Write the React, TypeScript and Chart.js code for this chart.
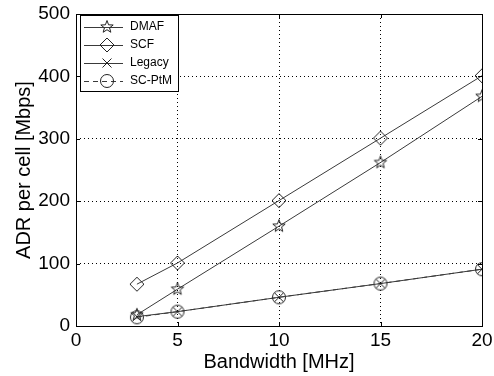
import React, { useEffect, useRef } from "react";
import { Chart, registerables } from "chart.js";
Chart.register(...registerables);

const bandwidth = [3, 5, 10, 15, 20];
const dmaf = [18, 59, 160, 262, 368];
const scf = [67, 101, 201, 301, 401];
const legacy = [15, 23, 46, 68, 91];
const scPtm = [14, 23, 46, 68, 91];
const seriesNames = ["DMAF", "SCF", "Legacy", "SC-PtM"];
const xTicks = [0, 5, 10, 15, 20];
const yTicks = [0, 100, 200, 300, 400, 500];

const LINE = "#3a3a3a";
const MARK = "#222";
const FAMILY = "'Liberation Sans', Arial, sans-serif";

function drawMarker(ctx: CanvasRenderingContext2D, kind: string, x: number, y: number) {
  ctx.save();
  ctx.strokeStyle = MARK;
  ctx.lineWidth = 1;
  ctx.setLineDash([]);
  ctx.beginPath();
  if (kind === "star") {
    const R = 6.5, r = 2.7;
    for (let i = 0; i < 10; i++) {
      const a = -Math.PI / 2 + (i * Math.PI) / 5;
      const rad = i % 2 === 0 ? R : r;
      const px = x + rad * Math.cos(a), py = y + rad * Math.sin(a);
      if (i === 0) ctx.moveTo(px, py); else ctx.lineTo(px, py);
    }
    ctx.closePath();
  } else if (kind === "diamond") {
    const d = 7;
    ctx.moveTo(x, y - d); ctx.lineTo(x + d, y); ctx.lineTo(x, y + d); ctx.lineTo(x - d, y); ctx.closePath();
  } else if (kind === "cross") {
    const d = 4.5;
    ctx.moveTo(x - d, y - d); ctx.lineTo(x + d, y + d);
    ctx.moveTo(x + d, y - d); ctx.lineTo(x - d, y + d);
  } else if (kind === "circle") {
    ctx.arc(x, y, 6.5, 0, Math.PI * 2);
  }
  ctx.stroke();
  ctx.restore();
}

function markerCanvas(kind: string) {
  const c = document.createElement("canvas");
  c.width = 18; c.height = 18;
  const ctx = c.getContext("2d")!;
  drawMarker(ctx, kind, 9, 9);
  return c;
}

const kinds = ["star", "diamond", "cross", "circle"];
const dashes: number[][] = [[], [], [], [5, 4]];

const framePlugin = {
  id: "frameLegend",
  afterDraw(chart: any) {
    const { ctx, chartArea } = chart;
    const { left, right, top, bottom } = chartArea;
    const xs = chart.scales.x, ys = chart.scales.y;
    ctx.save();
    ctx.strokeStyle = "#000";
    ctx.lineWidth = 1;
    ctx.setLineDash([]);
    ctx.strokeRect(left + 0.5, top + 0.5, right - left, bottom - top);
    ctx.beginPath();
    xTicks.forEach((v) => {
      const px = Math.round(xs.getPixelForValue(v)) + 0.5;
      ctx.moveTo(px, bottom); ctx.lineTo(px, bottom - 4);
      ctx.moveTo(px, top); ctx.lineTo(px, top + 4);
    });
    yTicks.forEach((v) => {
      const py = Math.round(ys.getPixelForValue(v)) + 0.5;
      ctx.moveTo(left, py); ctx.lineTo(left + 4, py);
      ctx.moveTo(right, py); ctx.lineTo(right - 4, py);
    });
    ctx.stroke();
    const bx = left + 4, by = top + 1, bw = 98, bh = 76;
    ctx.fillStyle = "#fff";
    ctx.fillRect(bx, by, bw, bh);
    ctx.strokeRect(bx + 0.5, by + 0.5, bw, bh);
    ctx.font = "12px " + FAMILY;
    ctx.textBaseline = "middle";
    ctx.fillStyle = "#000";
    seriesNames.forEach((name, i) => {
      const y = by + 12 + i * 18;
      ctx.strokeStyle = LINE;
      ctx.setLineDash(dashes[i]);
      ctx.beginPath();
      ctx.moveTo(bx + 4, y + 0.5);
      ctx.lineTo(bx + 43, y + 0.5);
      ctx.stroke();
      drawMarker(ctx, kinds[i], bx + 27, y);
      ctx.fillText(name, bx + 50, y);
    });
    ctx.restore();
  },
};

export default function App() {
  const ref = useRef<HTMLCanvasElement>(null);
  useEffect(() => {
    document.body.style.margin = "0";
    const datasets = [dmaf, scf, legacy, scPtm].map((vals, i) => ({
      label: seriesNames[i],
      data: bandwidth.map((b, j) => ({ x: b, y: vals[j] })),
      borderColor: LINE,
      borderWidth: 1,
      borderDash: dashes[i],
      pointStyle: markerCanvas(kinds[i]) as any,
      pointRadius: 7,
      fill: false,
      tension: 0,
    }));
    const font = { family: FAMILY, size: 19 };
    const titleFont = { family: FAMILY, size: 20 };
    const chart = new Chart(ref.current!, {
      type: "line",
      data: { datasets },
      plugins: [framePlugin],
      options: {
        animation: false,
        responsive: false,
        layout: { padding: { top: 14, right: 12, left: 12, bottom: 2 } },
        plugins: { legend: { display: false }, tooltip: { enabled: false } },
        scales: {
          x: {
            type: "linear",
            min: 0,
            max: 20,
            afterBuildTicks: (s: any) => { s.ticks = xTicks.map((v) => ({ value: v })); },
            afterFit: (s: any) => { s.height = 48; s.paddingLeft = 0; s.paddingRight = 0; },
            ticks: { color: "#000", font, padding: 3, maxRotation: 0 },
            grid: { color: "#000", lineWidth: 1, drawTicks: false },
            border: { display: false, dash: () => [1, 3] } as any,
            title: { display: true, text: "Bandwidth [MHz]", color: "#000", font: titleFont, padding: { top: 0, bottom: 0 } },
          },
          y: {
            type: "linear",
            min: 0,
            max: 500,
            afterBuildTicks: (s: any) => { s.ticks = yTicks.map((v) => ({ value: v })); },
            afterFit: (s: any) => { s.width = 64; s.paddingTop = 0; s.paddingBottom = 0; },
            ticks: { color: "#000", font, padding: 6 },
            grid: { color: "#000", lineWidth: 1, drawTicks: false },
            border: { display: false, dash: () => [1, 3] } as any,
            title: { display: true, text: "ADR per cell [Mbps]", color: "#000", font: titleFont, padding: { top: 0, bottom: 0 } },
          },
        },
      } as any,
    });
    return () => chart.destroy();
  }, []);
  return <canvas ref={ref} width={494} height={376} style={{ display: "block" }} />;
}
